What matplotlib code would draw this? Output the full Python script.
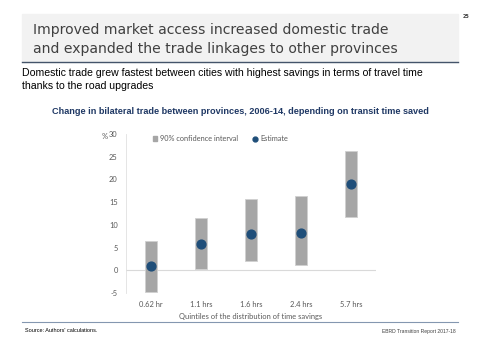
import matplotlib.pyplot as plt
from matplotlib.patches import Rectangle
from matplotlib.lines import Line2D

categories = ["0.62 hr", "1.1 hrs", "1.6 hrs", "2.4 hrs", "5.7 hrs"]
estimate = [1.0, 5.7, 7.9, 8.1, 19.0]
ci_low = [-4.8, 0.3, 2.0, 1.2, 11.7]
ci_high = [6.5, 11.4, 15.8, 16.4, 26.3]

BAR_GREY = "#a6a6a6"
DOT_BLUE = "#1f4e79"
TICK_GREY = "#595959"
AX_FONT = "Lato"

plt.rcParams["axes.unicode_minus"] = False

fig = plt.figure(figsize=(4.8, 3.6), dpi=100)

# slide header
fig.patches.append(Rectangle((22 / 480, 1 - 62 / 360), 436 / 480, 48 / 360,
                             transform=fig.transFigure, color="#f2f2f2", zorder=0))
fig.add_artist(Line2D([22 / 480, 458 / 480], [1 - 62 / 360] * 2,
                      transform=fig.transFigure, color="#44546a", lw=1.0))
fig.text(33 / 480, 1 - 30 / 360, "Improved market access increased domestic trade",
         fontsize=10.1, color="#404040", va="center", ha="left")
fig.text(33 / 480, 1 - 49 / 360, "and expanded the trade linkages to other provinces",
         fontsize=10.1, color="#404040", va="center", ha="left")
fig.text(463 / 480, 1 - 17 / 360, "25", fontsize=3.5, fontweight="bold",
         color="#404040", va="center", ha="left")

fig.text(22 / 480, 1 - 73 / 360,
         "Domestic trade grew fastest between cities with highest savings in terms of travel time",
         fontsize=7.6, family="Liberation Sans", color="#000000", va="center", ha="left")
fig.text(22 / 480, 1 - 86 / 360, "thanks to the road upgrades",
         fontsize=7.6, family="Liberation Sans", color="#000000", va="center", ha="left")
fig.text(240 / 480, 1 - 112 / 360,
         "Change in bilateral trade between provinces, 2006-14, depending on transit time saved",
         fontsize=6.6, family="Liberation Sans", fontweight="bold", color="#1f3864",
         va="center", ha="center")

# footer
fig.add_artist(Line2D([22 / 480, 458 / 480], [1 - 322 / 360] * 2,
                      transform=fig.transFigure, color="#8497b0", lw=0.8))
fig.text(25 / 480, 1 - 330 / 360, "Source: Authors' calculations.", fontsize=4.0,
         family="Liberation Sans", color="#000000", va="center", ha="left")
fig.text(456 / 480, 1 - 331 / 360, "EBRD Transition Report 2017-18", fontsize=3.6,
         family="Liberation Sans", color="#404040", va="center", ha="right")

ax = fig.add_axes([126 / 480, 67 / 360, 250 / 480, 159 / 360])
x = list(range(len(categories)))
ax.bar(x, [h - l for h, l in zip(ci_high, ci_low)], bottom=ci_low, width=0.24,
       color=BAR_GREY, edgecolor="#d0d0d0", linewidth=0.6, zorder=2,
       label="90% confidence interval")
ax.scatter(x, estimate, s=40, color=DOT_BLUE, zorder=3, label="Estimate")
ax.axhline(0, color="#d9d9d9", lw=0.8, zorder=1)

ax.set_xlim(-0.5, 4.5)
ax.set_ylim(-5, 30)
ax.set_yticks(range(-5, 31, 5))
ax.set_xticks(x)
ax.set_xticklabels(categories)
ax.tick_params(length=0, labelsize=5.4, colors=TICK_GREY, pad=6)
for lbl in ax.get_xticklabels() + ax.get_yticklabels():
    lbl.set_family(AX_FONT)
for s in ["top", "right", "bottom"]:
    ax.spines[s].set_visible(False)
ax.spines["left"].set_color("#e0e0e0")
ax.spines["left"].set_linewidth(0.6)
ax.set_xlabel("Quintiles of the distribution of time savings", fontsize=5.4,
              family=AX_FONT, color=TICK_GREY, labelpad=3)
ax.text(-0.085, 0.985, "%", transform=ax.transAxes, fontsize=5.4, family=AX_FONT,
        color=TICK_GREY, ha="center", va="center")

handles = [Rectangle((0, 0), 1, 1, color=BAR_GREY),
           Line2D([], [], marker="o", ls="", color=DOT_BLUE, markersize=3.5)]
ax.legend(handles, ["90% confidence interval", "Estimate"], loc="upper left",
          bbox_to_anchor=(0.08, 1.035), ncol=2, frameon=False,
          prop={"family": AX_FONT, "size": 5.3},
          handlelength=0.6, handleheight=0.6, handletextpad=0.4, columnspacing=2.0,
          labelcolor=TICK_GREY)

fig.savefig("out.png", dpi=100)
